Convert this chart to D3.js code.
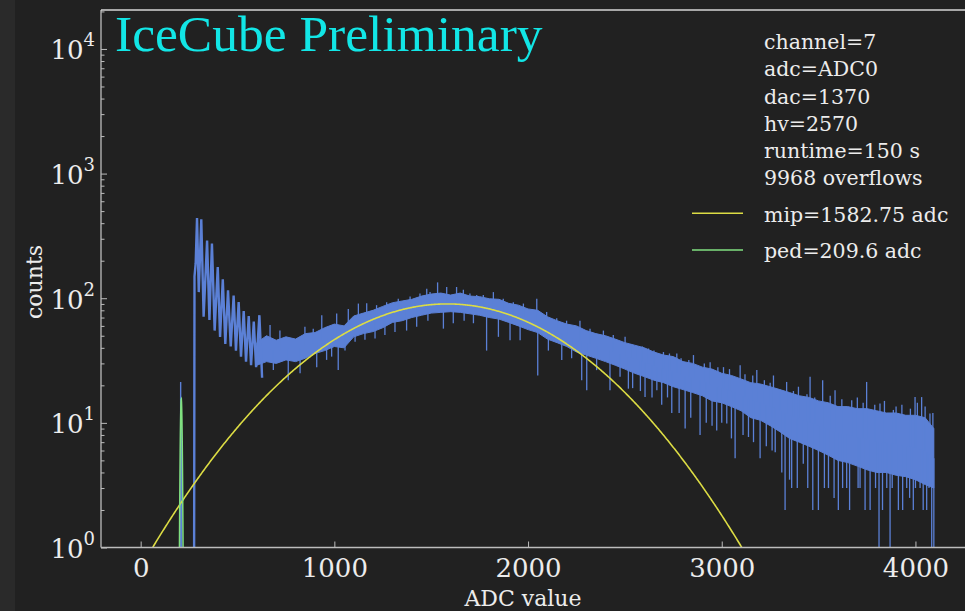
<!DOCTYPE html>
<html>
<head>
<meta charset="utf-8">
<script src="https://cdn.jsdelivr.net/npm/d3@7"></script>
<style>
  html, body { margin: 0; padding: 0; background: #212121; }
  svg { display: block; }
</style>
</head>
<body>
<svg id="chart" width="965" height="611"></svg>
<script>
// ---------------- data ----------------
const xTicks = [0, 1000, 2000, 3000, 4000];
const yTickExponents = [0, 1, 2, 3, 4];

// pedestal bins
const pedAdc   = [203, 204, 205, 206, 207, 208, 209, 210, 211, 212, 213, 214];
const pedCount = [0,   0,   0,   21,  8,   15,  12,  6,   3,   1,   0,   0];

// start of the signal spectrum: alternating peak / trough bins (sawtooth)
const combAdc   = [276, 278, 284, 291, 300, 313, 325, 343, 355, 368, 382, 398, 410, 424, 437, 451, 465, 480, 492, 506, 518, 532, 544, 558, 570, 584, 596, 613, 627];
const combCount = [0,   150, 190, 440, 112, 430, 71,  290, 67,  275, 55,  178, 49,  142, 43,  116, 41,  105, 38,  93,  34,  79,  31,  72,  29,  65,  28,  73,  23];

// bulk of the spectrum: upper and lower edge of the dense band of bin counts
const bandAdc = [600, 650, 700, 750, 800, 850, 900, 950, 1000, 1050, 1100, 1150, 1200, 1250, 1300, 1350, 1400, 1450, 1500, 1550, 1600, 1650, 1700, 1750, 1800, 1850, 1900, 1950, 2000, 2050, 2100, 2150, 2200, 2250, 2300, 2350, 2400, 2450, 2500, 2550, 2600, 2650, 2700, 2750, 2800, 2850, 2900, 2950, 3000, 3050, 3100, 3150, 3200, 3250, 3300, 3350, 3400, 3450, 3500, 3550, 3600, 3650, 3700, 3750, 3800, 3850, 3900, 3950, 4000, 4050, 4095];
const bandHigh = [44, 50, 46, 49, 47, 52, 53, 58, 62, 60, 72, 76, 80, 86, 92, 95, 98, 104, 108, 110, 106, 110, 104, 103, 99, 98, 91, 88, 82, 80, 71, 66, 62, 60, 55, 52, 50, 47, 44, 42, 40, 37, 35, 34, 31, 30, 28, 27, 25, 24, 22.5, 21, 20.5, 19.5, 18.5, 17.5, 16.5, 16, 15, 14.5, 13.5, 13.5, 13, 13, 12.5, 12, 12, 11.5, 11.5, 11, 9];
const bandLow  = [29, 31, 30, 32, 31, 33, 36, 38, 41, 40, 49, 52, 54, 58, 64, 66, 70, 73, 76, 77, 78, 77, 75, 73, 70, 68, 64, 60, 56, 53, 47, 44, 41, 37, 35, 33, 31, 29, 27, 25, 23.5, 22, 21, 19.5, 18.5, 17.5, 16.5, 15, 14.5, 13.5, 12.5, 11, 10.5, 9.5, 8.5, 7.5, 7, 6.5, 6, 5.5, 5, 4.8, 4.5, 4.2, 4, 4, 3.8, 3.7, 3.5, 3.2, 3];

// single outlying bins
const spikeAdc = [
  611, 625, 668, 685, 719, 762, 823, 848, 891, 909, 935, 960, 986, 992,
  1012, 1020, 1055, 1072, 1107, 1124, 1158, 1167, 1210, 1218, 1261, 1270, 1313, 1330, 1373, 1391, 1425, 1442, 1477, 1483, 1494, 1533, 1563, 1580, 1614, 1631, 1666, 1670, 1700, 1718, 1735,
  1769, 1786, 1821, 1847, 1872, 1907, 1924, 1959, 1976, 2045, 2050, 2096, 2105, 2148, 2174, 2199, 2225, 2268, 2277, 2303, 2320, 2354, 2389, 2423, 2440, 2475, 2501, 2518,
  2530, 2540, 2561, 2580, 2590, 2604, 2622, 2640, 2650, 2665, 2690, 2699, 2720, 2730, 2742, 2768, 2780, 2790, 2811, 2830, 2840, 2854, 2888, 2910, 2920, 2940, 2950, 2974, 2980, 3000, 3009, 3026, 3040, 3050, 3069, 3095, 3110, 3120, 3138, 3160, 3164, 3181, 3198, 3220, 3230, 3250, 3260, 3267, 3276,
  3300, 3310, 3327, 3335, 3350, 3361, 3370, 3390, 3396, 3421, 3440, 3444, 3456, 3470, 3480, 3499, 3521, 3530, 3551, 3560, 3580, 3585, 3602, 3620, 3624, 3645, 3660, 3671, 3700, 3704, 3714, 3730, 3740, 3748, 3766, 3790, 3794, 3812, 3817, 3830, 3840, 3852, 3869, 3880, 3886, 3900, 3912, 3930, 3934, 3955, 3970, 3974, 3989, 3998, 4000, 4010, 4024, 4032, 4040, 4050, 4058, 4070, 4075, 4084, 4090, 4095];
const spikeCount = [
  73, 23.4, 61, 26.5, 55, 22, 25, 59, 57, 28, 73, 32, 34, 61,
  75.5, 26.5, 38, 82, 44.7, 90.6, 46.5, 91, 47.5, 88, 50.6, 93, 53.7, 99, 55, 103, 59, 109, 119, 66, 112, 134, 57, 123, 63, 123, 117, 66, 109, 63, 106,
  106, 38, 112, 49, 99, 46, 93, 46, 90.6, 99, 24, 77.6, 38, 69, 32, 66, 33, 66, 22, 18.3, 57, 26.5, 55, 18.3, 50.6, 23.4, 49, 18.8,
  43, 19, 40.7, 18, 41, 16.1, 39.5, 16, 38, 18.3, 14, 37, 16, 36, 12, 36, 12, 33, 9, 32, 11, 35, 8, 30, 10, 30.7, 9.5, 8.7, 28, 10, 28, 9.9, 27, 7.5, 5.2, 29, 8, 24.5, 7.7, 24, 7, 26.5, 5.2, 22, 6.5, 21, 6, 24, 5.8,
  17.5, 4, 2, 21.3, 3.5, 3, 18, 3, 19.5, 4.7, 17, 3, 23.4, 2, 16, 2, 22, 3, 3, 16.5, 2.5, 18.3, 2, 15.5, 3, 3, 2, 15.2, 16, 3, 3, 14.5, 2, 21.3, 2, 14, 3, 0, 14.3, 2, 15, 3, 0, 3, 12.7, 13.5, 2, 14, 2, 3, 2.5, 13, 2, 16.1, 3, 14.5, 3, 16.1, 2, 13.5, 2, 3, 11.9, 0, 12, 0];

// fitted gaussians
const mipMean = 1582.75, mipAmp = 90, mipSigma = 507;
const pedMean = 209.6,  pedAmp = 15.6, pedSigma = 4;

const infoLines = ["channel=7", "adc=ADC0", "dac=1370", "hv=2570", "runtime=150 s", "9968 overflows"];
const legendLabels = ["mip=1582.75 adc", "ped=209.6 adc"];
const titleText = "IceCube Preliminary";

// ---------------- styles ----------------
const C = {
  bg: "#212121",
  strip: "#2a2a2a",
  spine: "#bdbdbd",
  text: "#ececec",
  hist: "#5b80d6",
  mip: "#dcdc44",
  ped: "#80e080",
  title: "#12e6e6"
};
const serif = "'DejaVu Serif', serif";

// ---------------- layout ----------------
const svg = d3.select("#chart");
const W = 965, H = 611;
const plot = { left: 101, top: 10, right: 973.5, bottom: 547.5 };

svg.append("rect").attr("width", W).attr("height", H).attr("fill", C.bg);
svg.append("rect").attr("width", 15).attr("height", H).attr("fill", C.strip);

const x = d3.scaleLinear().domain([-204.75, 4299.75]).range([plot.left, plot.right]);
const y = d3.scaleLog().domain([1, Math.pow(10, 4.3125)]).range([plot.bottom, plot.top]);
const yc = c => (c > 0 ? y(c) : plot.bottom + 4);

svg.append("defs").append("clipPath").attr("id", "plotclip")
  .append("rect")
  .attr("x", plot.left).attr("y", plot.top)
  .attr("width", plot.right - plot.left).attr("height", plot.bottom - plot.top);

const g = svg.append("g").attr("clip-path", "url(#plotclip)");

// ---- histogram: dense band ----
const band = bandAdc.map((a, i) => ({ a, lo: bandLow[i], hi: bandHigh[i] }));
g.append("path")
  .datum(band)
  .attr("fill", C.hist)
  .attr("stroke", C.hist)
  .attr("stroke-width", 1)
  .attr("d", d3.area().x(d => x(d.a)).y0(d => y(d.lo)).y1(d => y(d.hi)));

// ---- histogram: outlying bins ----
const bandMid = d3.scaleLinear().domain(bandAdc).range(bandAdc.map((a, i) => Math.sqrt(bandLow[i] * bandHigh[i])));
g.append("g").selectAll("line")
  .data(spikeAdc.map((a, i) => ({ a, c: spikeCount[i] })))
  .join("line")
  .attr("x1", d => x(d.a)).attr("x2", d => x(d.a))
  .attr("y1", d => y(bandMid(d.a))).attr("y2", d => yc(d.c))
  .attr("stroke", C.hist).attr("stroke-width", 1.3);

// ---- histogram: sawtooth start ----
g.append("path")
  .datum(combAdc.map((a, i) => ({ a, c: combCount[i] })))
  .attr("fill", "none")
  .attr("stroke", C.hist)
  .attr("stroke-width", 2.4)
  .attr("stroke-linejoin", "miter")
  .attr("d", d3.line().x(d => x(d.a)).y(d => yc(d.c)));

// ---- histogram: pedestal bins ----
g.append("path")
  .datum(pedAdc.map((a, i) => ({ a, c: pedCount[i] })))
  .attr("fill", "none")
  .attr("stroke", C.hist)
  .attr("stroke-width", 1.2)
  .attr("d", d3.line().x(d => x(d.a)).y(d => yc(d.c)).curve(d3.curveStepAfter));

// ---- fits ----
const gauss = (a, amp, mu, s) => amp * Math.exp(-((a - mu) * (a - mu)) / (2 * s * s));
const mipPts = d3.range(0, 4096, 4).map(a => ({ a, c: gauss(a, mipAmp, mipMean, mipSigma) }));
g.append("path")
  .datum(mipPts)
  .attr("fill", "none").attr("stroke", C.mip).attr("stroke-width", 1.6)
  .attr("d", d3.line().x(d => x(d.a)).y(d => y(Math.max(d.c, 1e-3))));

const pedPts = d3.range(190, 231, 1).map(a => ({ a, c: gauss(a, pedAmp, pedMean, pedSigma) }));
g.append("path")
  .datum(pedPts)
  .attr("fill", "none").attr("stroke", C.ped).attr("stroke-width", 1.5)
  .attr("d", d3.line().x(d => x(d.a)).y(d => y(Math.max(d.c, 1e-3))));

// ---------------- axes ----------------
const axisStyle = sel => {
  sel.select(".domain").remove();
  sel.selectAll(".tick line").attr("stroke", C.spine).attr("stroke-width", 1);
  sel.selectAll(".tick text").attr("fill", C.text).attr("font-family", serif);
};

const xAxis = d3.axisBottom(x).tickValues(xTicks).tickSizeInner(-6).tickSizeOuter(0).tickPadding(9)
  .tickFormat(d3.format("d"));
svg.append("g").attr("transform", `translate(0,${plot.bottom})`).call(xAxis).call(axisStyle)
  .selectAll(".tick text").attr("font-size", 26).attr("dy", "0.78em");

const yMajor = yTickExponents.map(e => Math.pow(10, e));
const yAxis = d3.axisLeft(y).tickValues(yMajor).tickSizeInner(-6).tickSizeOuter(0).tickPadding(6)
  .tickFormat(() => "");
const yG = svg.append("g").attr("transform", `translate(${plot.left},0)`).call(yAxis).call(axisStyle);
yG.selectAll(".tick text").each(function(d, i) {
  const t = d3.select(this).attr("font-size", 26).attr("dy", "0.38em");
  t.append("tspan").text("10");
  t.append("tspan").attr("font-size", 18).attr("dy", -13).text(String(yTickExponents[i]));
});

const yMinor = [];
yTickExponents.forEach(e => { for (let k = 2; k <= 9; k++) { const v = k * Math.pow(10, e); if (v < y.domain()[1]) yMinor.push(v); } });
const yAxisMinor = d3.axisLeft(y).tickValues(yMinor).tickSizeInner(-3.5).tickSizeOuter(0).tickFormat(() => "");
svg.append("g").attr("transform", `translate(${plot.left},0)`).call(yAxisMinor).call(axisStyle);

// spines: left, bottom, top
svg.append("line").attr("x1", plot.left).attr("x2", plot.left).attr("y1", plot.top).attr("y2", plot.bottom)
  .attr("stroke", C.spine).attr("stroke-width", 1.3);
svg.append("line").attr("x1", plot.left).attr("x2", W).attr("y1", plot.bottom).attr("y2", plot.bottom)
  .attr("stroke", C.spine).attr("stroke-width", 1.3);
svg.append("line").attr("x1", plot.left).attr("x2", W).attr("y1", plot.top).attr("y2", plot.top)
  .attr("stroke", "#d6d6d6").attr("stroke-width", 1.3);

// axis titles
svg.append("text").attr("x", 523).attr("y", 606).attr("text-anchor", "middle")
  .attr("font-family", serif).attr("font-size", 22).attr("fill", C.text).text("ADC value");
svg.append("text").attr("transform", "translate(42,282) rotate(-90)").attr("text-anchor", "middle")
  .attr("font-family", serif).attr("font-size", 22).attr("fill", C.text).text("counts");

// ---------------- annotations ----------------
svg.append("text").attr("x", 115).attr("y", 50.7)
  .attr("font-family", "'Liberation Serif', serif").attr("font-size", 51.5)
  .attr("fill", C.title).text(titleText);

const info = svg.append("g").attr("font-family", serif).attr("font-size", 20.5).attr("fill", C.text);
infoLines.forEach((s, i) => {
  info.append("text").attr("x", 764).attr("y", 49.3 + i * 27.15).text(s);
});

const legendColors = [C.mip, C.ped];
legendLabels.forEach((s, i) => {
  const ly = 213.3 + i * 36.8;
  svg.append("line").attr("x1", 692).attr("x2", 743).attr("y1", ly).attr("y2", ly)
    .attr("stroke", legendColors[i]).attr("stroke-width", 1.5);
  svg.append("text").attr("x", 764).attr("y", ly + 8.3)
    .attr("font-family", serif).attr("font-size", 20.5).attr("fill", C.text).text(s);
});
</script>
</body>
</html>
